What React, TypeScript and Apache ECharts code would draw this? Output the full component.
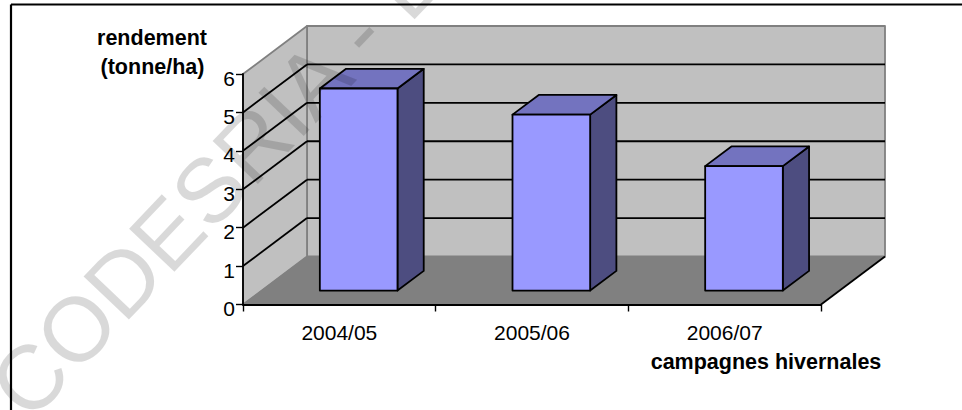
import React, { useEffect, useRef } from "react";
import * as echarts from "echarts";

const categories = ["2004/05", "2005/06", "2006/07"];
const yields = [5.26, 4.58, 3.24];
const yTicks = [0, 1, 2, 3, 4, 5, 6];
const FONT = '"Liberation Sans", Arial, sans-serif';
const DEPTH_X = 64;
const DEPTH_Y = 48;
const BAR_FRONT = 0.29;
const BAR_BACK = 0.7;
const BAR_BAND = 0.403;

const poly = (points: number[][], fill: string, stroke = "none", lineWidth = 0) => ({
  type: "polygon",
  shape: { points },
  style: { fill, stroke, lineWidth, lineJoin: "round" },
});

const line = (a: number[], b: number[], stroke: string, lineWidth = 1.8) => ({
  type: "line",
  shape: { x1: a[0], y1: a[1], x2: b[0], y2: b[1] },
  style: { stroke, lineWidth },
});

export default function App() {
  const ref = useRef<HTMLDivElement>(null);
  useEffect(() => {
    document.body.style.margin = "0";
    const chart = echarts.init(ref.current!, undefined, { renderer: "svg" });
    chart.setOption({
      animation: false,
      backgroundColor: "#ffffff",
      grid: { left: 243, top: 74, width: 578, height: 230.5 },
      xAxis: {
        type: "category",
        data: categories,
        boundaryGap: true,
        z: 5,
        axisLine: { show: true, lineStyle: { color: "#000", width: 1.8 } },
        axisTick: { show: true, alignWithLabel: false, length: 7, lineStyle: { color: "#000", width: 1.4 } },
        axisLabel: { color: "#000", fontFamily: FONT, fontSize: 21, margin: 17 },
      },
      yAxis: {
        type: "value",
        min: 0,
        max: 6,
        interval: 1,
        z: 5,
        splitLine: { show: false },
        axisLine: { show: true, lineStyle: { color: "#000", width: 1.8 } },
        axisTick: { show: true, length: 7, lineStyle: { color: "#000", width: 1.4 } },
        axisLabel: {
          formatter: "{d|{value}}",
          margin: 8,
          rich: {
            d: { color: "#000", fontFamily: FONT, fontSize: 21, padding: [8, 0, 0, 0] },
          },
        },
      },
      series: [
        {
          name: "walls",
          type: "custom",
          clip: false,
          z: 1,
          data: [[0, 0]],
          encode: { x: 0, y: 1 },
          silent: true,
          renderItem: (params: any, api: any) => {
            const cs = params.coordSys;
            const l = cs.x;
            const r = cs.x + cs.width;
            const t = cs.y;
            const b = cs.y + cs.height;
            const dx = DEPTH_X;
            const dy = DEPTH_Y;
            return {
              type: "group",
              children: [
                poly([[l + dx, t - dy], [r + dx, t - dy], [r + dx, b - dy], [l + dx, b - dy]], "#c0c0c0", "#808080", 1.8),
                poly([[l, t], [l + dx, t - dy], [l + dx, b - dy], [l, b]], "#c0c0c0", "#808080", 1.8),
                poly([[l, b], [l + dx, b - dy], [r + dx, b - dy], [r, b]], "#808080", "#808080", 1),
                line([r, b], [r + dx, b - dy], "#000", 1.8),
              ],
            };
          },
        },
        {
          name: "gridlines",
          type: "custom",
          clip: false,
          z: 2,
          silent: true,
          data: yTicks.filter((v) => v > 0 && v < 6).map((v) => [0, v]),
          encode: { x: 0, y: 1 },
          renderItem: (params: any, api: any) => {
            const cs = params.coordSys;
            const y = api.coord([0, api.value(1)])[1];
            const a = [cs.x, y];
            const c = [cs.x + DEPTH_X, y - DEPTH_Y];
            const d = [cs.x + cs.width + DEPTH_X, y - DEPTH_Y];
            return {
              type: "group",
              children: [line(a, c, "#000"), line(c, d, "#000")],
            };
          },
        },
        {
          name: "rendement",
          type: "custom",
          clip: false,
          z: 3,
          data: yields.map((v, i) => [i, v]),
          encode: { x: 0, y: 1 },
          renderItem: (params: any, api: any) => {
            const top = api.coord([api.value(0), api.value(1)]);
            const base = api.coord([api.value(0), 0]);
            const band = api.size([1, 0])[0];
            const w = band * BAR_BAND;
            const fx = DEPTH_X * (BAR_FRONT + 0.012);
            const fy = DEPTH_Y * BAR_FRONT;
            const bx = DEPTH_X * (BAR_BACK + 0.012);
            const by = DEPTH_Y * BAR_BACK;
            const x0 = top[0] - w / 2;
            const x1 = top[0] + w / 2;
            const S = "#000";
            const W = 1.8;
            return {
              type: "group",
              children: [
                poly([[x1 + fx, top[1] - fy], [x1 + bx, top[1] - by], [x1 + bx, base[1] - by], [x1 + fx, base[1] - fy]], "#4d4d80", S, W),
                poly([[x0 + fx, top[1] - fy], [x0 + bx, top[1] - by], [x1 + bx, top[1] - by], [x1 + fx, top[1] - fy]], "#7373bf", S, W),
                poly([[x0 + fx, top[1] - fy], [x1 + fx, top[1] - fy], [x1 + fx, base[1] - fy], [x0 + fx, base[1] - fy]], "#9999ff", S, W),
              ],
            };
          },
        },
      ],
      graphic: [
        { type: "line", z: 50, shape: { x1: 11, y1: 4.5, x2: 962, y2: 4.5 }, style: { stroke: "#000", lineWidth: 2.2 } },
        { type: "line", z: 50, shape: { x1: 11, y1: 4.5, x2: 11, y2: 410 }, style: { stroke: "#000", lineWidth: 2.2 } },
        {
          type: "text", z: 60, x: 152, y: 38,
          style: { text: "rendement", fill: "#000", font: `bold 21.5px ${FONT}`, textAlign: "center", textVerticalAlign: "middle" },
        },
        {
          type: "text", z: 60, x: 152.5, y: 67,
          style: { text: "(tonne/ha)", fill: "#000", font: `bold 21.5px ${FONT}`, textAlign: "center", textVerticalAlign: "middle" },
        },
        {
          type: "text", z: 60, x: 766, y: 362,
          style: { text: "campagnes hivernales", fill: "#000", font: `bold 21.5px ${FONT}`, textAlign: "center", textVerticalAlign: "middle" },
        },
        {
          type: "text", z: 100, x: 7, y: 402, rotation: 0.81, silent: true,
          style: { text: "CODESRIA - B", fill: "rgba(0,0,0,0.15)", font: `91px ${FONT}`, textAlign: "left", textVerticalAlign: "middle" },
        },
      ],
    });
    return () => chart.dispose();
  }, []);
  return <div ref={ref} style={{ position: "absolute", left: 0, top: 0, width: 962, height: 410 }} />;
}
